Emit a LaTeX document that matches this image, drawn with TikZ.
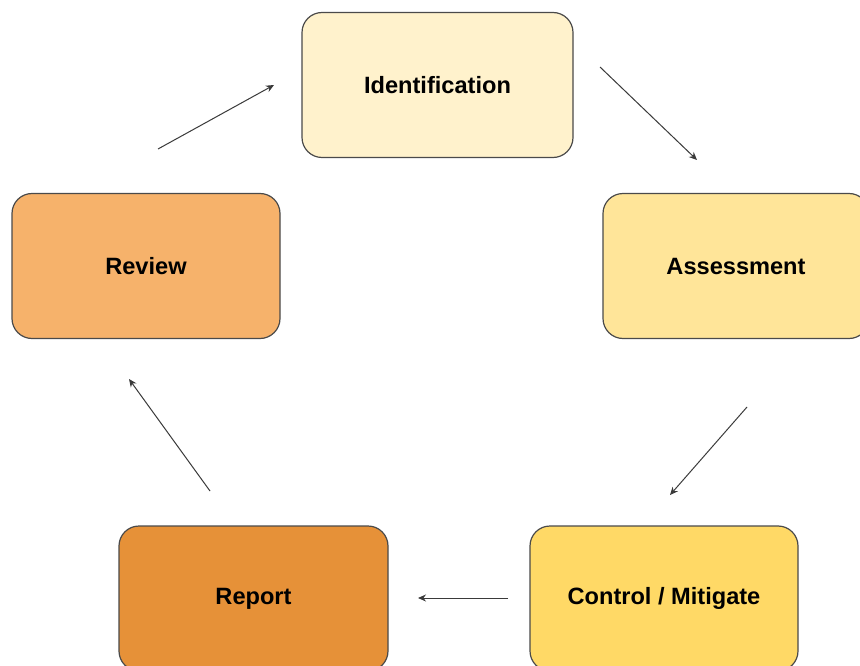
\documentclass[tikz,border=0pt]{standalone}
\usepackage{fontspec}
\setmainfont{Liberation Sans}
\usetikzlibrary{arrows.meta}
\definecolor{cIdent}{HTML}{FFF2CC}
\definecolor{cAssess}{HTML}{FFE599}
\definecolor{cControl}{HTML}{FFD966}
\definecolor{cReport}{HTML}{E69138}
\definecolor{cReview}{HTML}{F6B26B}
\definecolor{cEdge}{HTML}{4A4A4A}
\definecolor{cArrow}{HTML}{3A3A3A}
\tikzset{
  stage/.style={draw=cEdge, line width=1.2pt, rounded corners=20pt,
    minimum width=268pt, minimum height=145pt, inner sep=0pt,
    font=\fontsize{23.6}{28}\selectfont\bfseries, text=black},
  flow/.style={draw=cArrow, line width=1pt,
    -{Stealth[length=8pt,width=7pt]}}
}
\begin{document}
\begin{tikzpicture}[x=1pt,y=-1pt]
  \useasboundingbox (0,0) rectangle (860,666);
  \clip (0,0) rectangle (860,666);
  \fill[white] (0,0) rectangle (860,666);

  % process stages
  \node[stage, fill=cIdent, minimum width=271pt] (ident) at (437.5,85) {Identification};
  \node[stage, fill=cAssess, minimum width=266pt] (assess) at (736,266) {Assessment};
  \node[stage, fill=cControl] (control) at (664,598.5) {Control / Mitigate};
  \node[stage, fill=cReport, minimum width=269pt] (report) at (253.5,598.5) {Report};
  \node[stage, fill=cReview] (review) at (146,266) {Review};

  % free-standing connector end points between the stages
  \coordinate (a1) at (600,67);   \coordinate (b1) at (697,160);
  \coordinate (a2) at (747,407);  \coordinate (b2) at (670,495);
  \coordinate (a3) at (508,598);  \coordinate (b3) at (418,598);
  \coordinate (a4) at (210,491);  \coordinate (b4) at (129,379);
  \coordinate (a5) at (158,149);  \coordinate (b5) at (274,85);

  % cycle connectors
  \draw[flow] (a1) -- (b1);
  \draw[flow] (a2) -- (b2);
  \draw[flow] (a3) -- (b3);
  \draw[flow] (a4) -- (b4);
  \draw[flow] (a5) -- (b5);
\end{tikzpicture}
\end{document}
